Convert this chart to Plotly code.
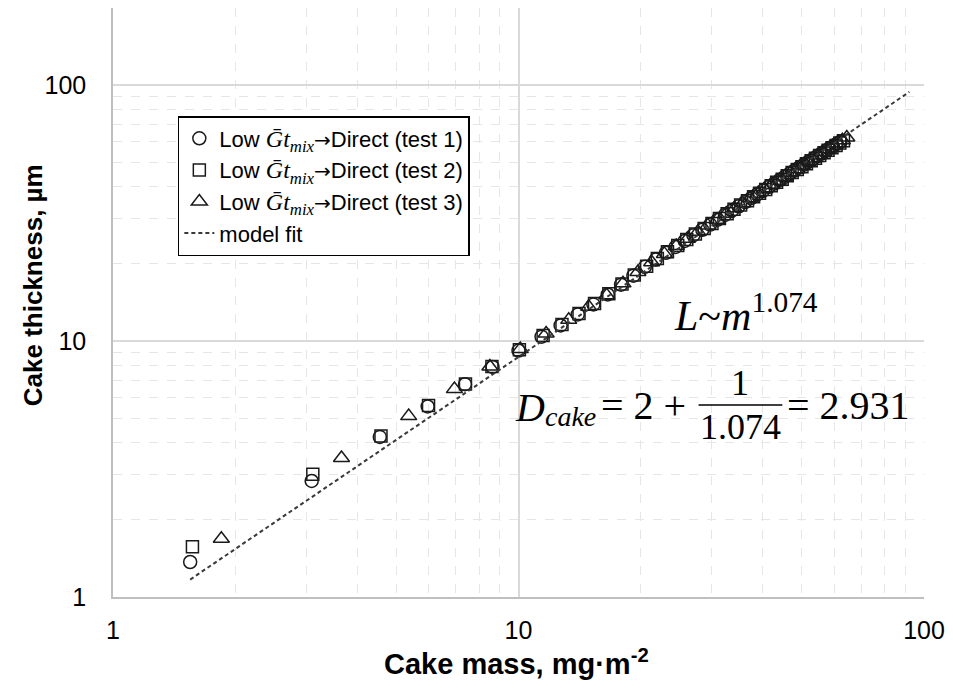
import plotly.graph_objects as go

# ---------------- data ----------------
test1_mass = [1.55, 3.09, 4.55, 5.97, 7.38, 8.63, 10.0, 11.4, 12.7, 14.0, 15.3, 16.6, 17.9, 19.2,
              20.5, 21.8, 23.1, 24.4, 25.7, 27.0, 28.4, 29.7, 31.0, 32.3, 33.6, 34.9, 36.2, 37.5,
              38.8, 40.1, 41.4, 42.7, 44.0, 45.3, 46.6, 47.9, 49.2, 50.5, 51.8, 53.1, 54.4, 55.7,
              57.0, 58.3, 59.6, 60.9, 62.2]
test1_thick = [1.37, 2.84, 4.22, 5.55, 6.78, 7.92, 9.18, 10.4, 11.5, 12.7, 13.9, 15.2, 16.6, 18.0,
               19.5, 20.8, 22.1, 23.3, 24.6, 25.9, 27.2, 28.5, 29.8, 31.1, 32.3, 33.6, 34.9, 36.2,
               37.4, 38.7, 40.0, 41.2, 42.5, 43.8, 45.0, 46.3, 47.6, 48.8, 50.1, 51.3, 52.6, 53.9,
               55.1, 56.4, 57.6, 58.9, 60.1]

test2_mass = [1.57, 3.11, 4.58, 6.0, 7.4, 8.6, 10.05, 11.5, 12.8, 14.1, 15.4, 16.7, 18.0, 19.3,
              20.7, 22.0, 23.3, 24.7, 26.0, 27.3, 28.7, 30.0, 31.3, 32.7, 34.0, 35.3, 36.7, 38.0,
              39.3, 40.7, 42.0, 43.3, 44.7, 46.0, 47.3, 48.7, 50.0, 51.3, 52.7, 54.0, 55.3, 56.7,
              58.0, 59.3, 60.7, 62.0, 63.3]
test2_thick = [1.57, 3.02, 4.26, 5.6, 6.8, 7.95, 9.25, 10.5, 11.6, 12.8, 14.0, 15.3, 16.7, 18.1,
               19.6, 21.0, 22.3, 23.6, 24.9, 26.2, 27.5, 28.8, 30.1, 31.4, 32.7, 34.0, 35.3, 36.6,
               37.8, 39.1, 40.4, 41.7, 42.9, 44.2, 45.5, 46.8, 48.0, 49.3, 50.6, 51.8, 53.1, 54.4,
               55.6, 56.9, 58.1, 59.4, 60.6]

test3_mass = [1.85, 3.66, 5.36, 6.95, 8.5, 10.1, 11.7, 13.3, 14.9, 16.5, 18.1, 19.7, 21.3, 22.9,
              24.5, 26.1, 27.7, 29.3, 30.9, 32.5, 34.1, 35.7, 37.3, 38.9, 40.5, 42.1, 43.7, 45.3,
              46.9, 48.5, 50.1, 51.7, 53.3, 54.9, 56.5, 58.1, 59.7, 61.3, 62.9, 64.5]
test3_thick = [1.69, 3.49, 5.09, 6.49, 7.95, 9.3, 10.7, 12.1, 13.6, 15.1, 16.8, 18.6, 20.3, 21.9,
               23.5, 25.1, 26.7, 28.3, 29.8, 31.4, 33.0, 34.5, 36.1, 37.6, 39.2, 40.7, 42.3, 43.8,
               45.4, 46.9, 48.5, 50.0, 51.6, 53.1, 54.7, 56.2, 57.8, 59.3, 60.9, 62.4]

fit_mass = [1.55, 92.0]
fit_thick = [1.17, 94.0]

_math = '<span style="font-family:Liberation Serif;font-size:24px"><i>Ḡt</i><sub><i>mix</i></sub></span>'
_arrow = '<span style="font-family:DejaVu Sans;font-size:20px">→</span>'
series_names = [
    'Low ' + _math + _arrow + 'Direct (test 1)',
    'Low ' + _math + _arrow + 'Direct (test 2)',
    'Low ' + _math + _arrow + 'Direct (test 3)',
    'model fit',
]

x_tickvals = [1, 10, 100]
y_tickvals = [1, 10, 100]

# ---------------- layout helpers ----------------
W, H = 953, 688
L_, R_, T_, B_ = 113, 926, 8, 597


def px(x):
    return (x - L_) / (R_ - L_)


def py(y):
    return (B_ - y) / (B_ - T_)


fig = go.Figure()
marker_line = dict(color="#1a1a1a", width=1.5)
fig.add_trace(go.Scatter(x=test1_mass, y=test1_thick, mode="markers", name=series_names[0],
                         legendgroup="a",
                         marker=dict(symbol="circle-open", size=13, color="#1a1a1a", line=marker_line)))
fig.add_trace(go.Scatter(x=test2_mass, y=test2_thick, mode="markers", name=series_names[1],
                         legendgroup="b",
                         marker=dict(symbol="square-open", size=12, color="#1a1a1a", line=marker_line)))
fig.add_trace(go.Scatter(x=test3_mass, y=test3_thick, mode="markers", name=series_names[2],
                         legendgroup="c",
                         marker=dict(symbol="triangle-up-open", size=14, color="#1a1a1a", line=marker_line)))
fig.add_trace(go.Scatter(x=fit_mass, y=fit_thick, mode="lines", name=series_names[3],
                         legendgroup="d",
                         line=dict(color="#3a3a3a", width=2, dash="4px,3px")))

grid_major = "#d9d9d9"
grid_minor = "#e6e6e6"
axis_common = dict(
    type="log",
    tickmode="array",
    showline=True, linecolor="#bfbfbf", linewidth=1.5,
    showgrid=True, gridcolor=grid_major, gridwidth=1.5,
    ticks="",
    tickfont=dict(family="Liberation Sans, Arial", size=25, color="#000"),
    minor=dict(dtick="D1", showgrid=True, gridcolor=grid_minor, griddash="dash", gridwidth=1, ticks=""),
    zeroline=False,
)
fig.update_xaxes(range=[0, 2], tickvals=x_tickvals, ticktext=["1", "10", "100"],
                 ticklabelstandoff=10, **axis_common)
fig.update_yaxes(range=[0, 2.30103], tickvals=y_tickvals, ticktext=["1", "10", "100"],
                 ticklabelstandoff=20, **axis_common)

ann = []
# axis titles
ann.append(dict(text="<b>Cake mass, mg·m<sup>-2</sup></b>", x=px(517), y=py(662), xref="paper", yref="paper",
                showarrow=False, xanchor="center", yanchor="middle",
                font=dict(family="Liberation Sans, Arial", size=29, color="#000")))
ann.append(dict(text="<b>Cake thickness, µm</b>", x=px(33), y=py(285), xref="paper", yref="paper",
                showarrow=False, xanchor="center", yanchor="middle", textangle=-90,
                font=dict(family="Liberation Sans, Arial", size=26, color="#000")))

serif = "Liberation Serif, DejaVu Serif, serif"
ann.append(dict(text="<i>L</i>~<i>m</i><sup>1.074</sup>", x=px(748), y=py(312), xref="paper", yref="paper",
                showarrow=False, xanchor="center", yanchor="middle",
                font=dict(family=serif, size=42, color="#000")))
ann.append(dict(text="<i>D</i>", x=px(514), y=py(407), xref="paper", yref="paper",
                showarrow=False, xanchor="left", yanchor="middle",
                font=dict(family=serif, size=40, color="#000")))
ann.append(dict(text="<i>cake</i>", x=px(544), y=py(416), xref="paper", yref="paper",
                showarrow=False, xanchor="left", yanchor="middle",
                font=dict(family=serif, size=28, color="#000")))
ann.append(dict(text="= 2 +", x=px(600), y=py(406), xref="paper", yref="paper",
                showarrow=False, xanchor="left", yanchor="middle",
                font=dict(family=serif, size=40, color="#000")))
ann.append(dict(text="1", x=px(742), y=py(383), xref="paper", yref="paper",
                showarrow=False, xanchor="center", yanchor="middle",
                font=dict(family=serif, size=36, color="#000")))
ann.append(dict(text="1.074", x=px(742), y=py(427), xref="paper", yref="paper",
                showarrow=False, xanchor="center", yanchor="middle",
                font=dict(family=serif, size=36, color="#000")))
ann.append(dict(text="= 2.931", x=px(787), y=py(406), xref="paper", yref="paper",
                showarrow=False, xanchor="left", yanchor="middle",
                font=dict(family=serif, size=40, color="#000")))

shapes = [dict(type="line", xref="paper", yref="paper", x0=px(700), x1=px(784), y0=py(405), y1=py(405),
               line=dict(color="#000", width=1.5))]

fig.update_layout(
    width=W, height=H,
    margin=dict(l=L_, r=W - R_, t=T_, b=H - B_),
    paper_bgcolor="white", plot_bgcolor="white",
    showlegend=True,
    legend=dict(x=px(178), y=py(116), xanchor="left", yanchor="top",
                bordercolor="#000", borderwidth=1.5, bgcolor="white",
                font=dict(family="Liberation Sans, Arial", size=22, color="#000"),
                tracegroupgap=15, traceorder="normal"),
    annotations=ann,
    shapes=shapes,
)

fig.write_html("out.html")
